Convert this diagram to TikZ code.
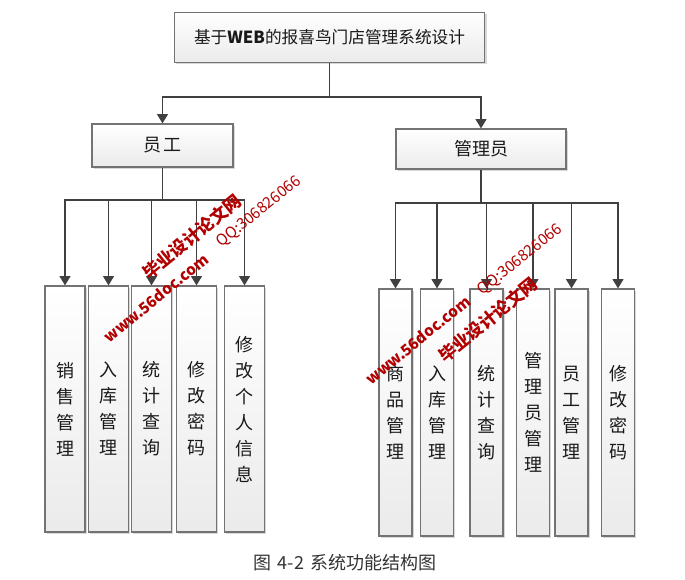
\documentclass[tikz,border=0pt]{standalone}
\usepackage{fontspec}
\setmainfont{Noto Sans CJK SC}
\usetikzlibrary{arrows.meta,shadows}

\tikzset{
  box/.style={draw=black!55, line width=0.8pt, top color=white, bottom color=black!8,
    drop shadow={shadow xshift=1.3pt, shadow yshift=-1.3pt, opacity=0.3},
    font=\fontsize{13.5}{19.5}\selectfont, text=black!90, align=center, inner sep=0pt},
  leafl/.style={box, minimum width=30pt, minimum height=184.5pt},
  leafr/.style={box, minimum width=24.75pt, minimum height=185.25pt},
  link/.style={draw=black!75, line width=1.4pt},
  arr/.style={link, -{Triangle[length=7pt,width=8pt]}},
  wm/.style={text=red!70!black, rotate=39, inner sep=0pt},
}

\begin{document}
\begin{tikzpicture}[x=0.75pt, y=-0.75pt]
    \fill[white] (0,0) rectangle (685,580);
    \useasboundingbox (0,0) rectangle (685,580);

    % top level
    \node[box, minimum width=233pt, minimum height=37.5pt, font=\fontsize{12.5}{15}\selectfont] (sys) at (329.5,37.5)
        {基于\textbf{WEB}的报喜鸟门店管理系统设计};
    \node[box, minimum width=105.75pt, minimum height=32.25pt] (yg) at (162.5,145.5) {员\hspace{1.5pt}工};
    \node[box, minimum width=127.5pt, minimum height=30pt] (gly) at (481,149) {管理员};

    % employee functions
    \node[leafl] (y1) at (65,409) {销\\售\\管\\理};
    \node[leafl] (y2) at (108.5,409) {入\\库\\管\\理};
    \node[leafl] (y3) at (151.5,409) {统\\计\\查\\询};
    \node[leafl] (y4) at (196.5,409) {修\\改\\密\\码};
    \node[leafl] (y5) at (244.5,409) {修\\改\\个\\人\\信\\息};

    % admin functions
    \node[leafr] (g1) at (395.5,412.5) {商\\品\\管\\理};
    \node[leafr] (g2) at (437,412.5) {入\\库\\管\\理};
    \node[leafr] (g3) at (486.5,412.5) {统\\计\\查\\询};
    \node[leafr] (g4) at (533,412.5) {管\\理\\员\\管\\理};
    \node[leafr] (g5) at (571.5,412.5) {员\\工\\管\\理};
    \node[leafr] (g6) at (618,412.5) {修\\改\\密\\码};

    % connectors
    \draw[link] (sys.south) -- (sys.south |- 0,97) coordinate (j0);
    \draw[arr] (j0) -| (yg.north);
    \draw[arr] (j0) -| (gly.north);

    \draw[link] (yg.south) -- (yg.south |- 0,200) coordinate (j1);
    \foreach \n in {y1,y2,y3,y4,y5}
        \draw[arr] (j1) -| (\n.north);

    \draw[link] (gly.south) -- (gly.south |- 0,203) coordinate (j2);
    \foreach \n in {g1,g2,g3,g4,g5,g6}
        \draw[arr] (j2) -| (\n.north);

    \node[font=\fontsize{13.5}{16}\selectfont, text=black!80] (cap) at (345,563)
        {图\hspace{5pt}4-2\hspace{5pt}系统功能结构图};

    % watermarks
    \node[wm, font=\fontsize{13}{14}\selectfont\bfseries] (w1) at (192,237) {毕业设计论文网};
    \node[wm, font=\fontsize{11.5}{14}\selectfont\bfseries] (w2) at (156,298) {www.56doc.com};
    \node[wm, font=\fontsize{11.5}{14}\selectfont] (w3) at (259,212) {QQ:306826066};
    \node[wm, font=\fontsize{13}{14}\selectfont\bfseries] (w4) at (488,320) {毕业设计论文网};
    \node[wm, font=\fontsize{11.5}{14}\selectfont\bfseries] (w5) at (418,340) {www.56doc.com};
    \node[wm, font=\fontsize{11.5}{14}\selectfont] (w6) at (520,260) {QQ:306826066};
\end{tikzpicture}
\end{document}
